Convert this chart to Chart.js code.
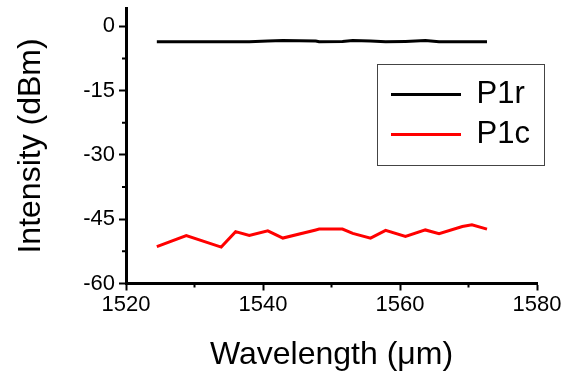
<!DOCTYPE html>
<html>
<head>
<meta charset="utf-8">
<script src="https://cdn.jsdelivr.net/npm/chart.js@4"></script>
<style>
  html, body { margin: 0; padding: 0; background: #fff; }
  #wrap { width: 585px; height: 382px; position: relative; }
</style>
</head>
<body>
<div id="wrap"><canvas id="grafico"></canvas></div>
<script>
// dados
const wavelength = [1524.5, 1528.8, 1533.9, 1536.0, 1538.0, 1540.7, 1542.9, 1547.7, 1548.2, 1551.6,
                    1553.1, 1555.7, 1557.9, 1560.8, 1563.7, 1565.7, 1569.1, 1570.5, 1572.7];
const p1r = [-3.6, -3.6, -3.6, -3.6, -3.6, -3.4, -3.3, -3.4, -3.6, -3.5,
             -3.3, -3.4, -3.6, -3.5, -3.3, -3.6, -3.6, -3.6, -3.6];
const p1c = [-51.4, -48.8, -51.5, -47.9, -48.8, -47.7, -49.4, -47.5, -47.3, -47.3,
             -48.3, -49.4, -47.6, -49.0, -47.5, -48.4, -46.7, -46.3, -47.3];

const xTicks = [1520, 1540, 1560, 1580];
const xMinor = [1530, 1550, 1570];
const yTicks = [-60, -45, -30, -15, 0];
const yMinor = [-52.5, -37.5, -22.5, -7.5];

const FONT = 'Arial, "Liberation Sans", sans-serif';

function pontos(ys) {
    return wavelength.map((w, i) => ({ x: w, y: ys[i] }));
}

// ticks menores (mais curtos) desenhados pela propria escala
const minorTicks = {
    id: 'minorTicks',
    afterDraw(chart) {
        const ctx = chart.ctx;
        const xs = chart.scales.x, ys = chart.scales.y;
        ctx.save();
        ctx.strokeStyle = '#000';
        ctx.lineWidth = 2;
        ctx.beginPath();
        xMinor.forEach(v => {
            const px = xs.getPixelForValue(v);
            ctx.moveTo(px, xs.top);
            ctx.lineTo(px, xs.top + 4);
        });
        yMinor.forEach(v => {
            const py = ys.getPixelForValue(v);
            ctx.moveTo(ys.right, py);
            ctx.lineTo(ys.right - 4, py);
        });
        ctx.stroke();
        ctx.restore();
    }
};

// legenda dentro da area do grafico, com moldura
const legendFrame = {
    id: 'legendFrame',
    beforeDraw(chart, args, opts) {
        const lg = chart.legend;
        if (!lg) return;
        lg.left = chart.chartArea.left + opts.dx;
        lg.top = chart.chartArea.top + opts.dy;
        lg.bottom = chart.chartArea.bottom;
    },
    afterDraw(chart, args, opts) {
        const lg = chart.legend;
        if (!lg) return;
        const ctx = chart.ctx;
        ctx.save();
        ctx.strokeStyle = '#444';
        ctx.lineWidth = 1;
        ctx.strokeRect(Math.round(lg.left - 5) + 0.5, Math.round(lg.top - 5.5) + 0.5, opts.w, opts.h);
        ctx.restore();
    }
};

const eixo = {
    border: { display: true, color: '#000', width: 3 },
    grid: { drawOnChartArea: false, drawTicks: true, tickLength: 7, tickWidth: 2, tickColor: '#000' },
    ticks: { color: '#000', font: { family: FONT, size: 22 }, callback: v => String(v) }
};

new Chart(document.getElementById('grafico'), {
    type: 'line',
    data: {
        datasets: [
            {
                label: 'P1r',
                data: pontos(p1r),
                borderColor: '#000',
                backgroundColor: '#000',
                borderWidth: 3,
                pointRadius: 0,
                tension: 0
            },
            {
                label: 'P1c',
                data: pontos(p1c),
                borderColor: '#ff0000',
                backgroundColor: '#ff0000',
                borderWidth: 3,
                pointRadius: 0,
                tension: 0
            }
        ]
    },
    options: {
        responsive: true,
        maintainAspectRatio: false,
        animation: false,
        layout: { padding: { top: 3, right: 48, bottom: 0, left: 0 } },
        plugins: {
            tooltip: { enabled: false },
            legend: {
                display: true,
                position: 'chartArea',
                align: 'start',
                labels: {
                    usePointStyle: true,
                    pointStyle: 'line',
                    pointStyleWidth: 70,
                    padding: 9,
                    color: '#000',
                    font: { family: FONT, size: 31 }
                }
            },
            legendFrame: { dx: 256, dy: 61.5, w: 167, h: 101 }
        },
        scales: {
            x: {
                ...eixo,
                type: 'linear',
                min: 1520,
                max: 1580,
                afterBuildTicks: s => { s.ticks = xTicks.map(v => ({ value: v })); },
                afterFit: s => { s.height = 98.5; },
                ticks: { ...eixo.ticks, padding: 1, maxRotation: 0 },
                title: {
                    display: true,
                    text: 'Wavelength (μm)',
                    color: '#000',
                    font: { family: FONT, size: 32 },
                    padding: { top: 0, bottom: 8 }
                }
            },
            y: {
                ...eixo,
                type: 'linear',
                min: -60,
                max: 4.2,
                afterBuildTicks: s => { s.ticks = yTicks.map(v => ({ value: v })); },
                afterFit: s => { s.width = 126; },
                ticks: { ...eixo.ticks, padding: 4, font: { family: FONT, size: 22, lineHeight: 0.4 } },
                title: {
                    display: true,
                    text: 'Intensity (dBm)',
                    color: '#000',
                    font: { family: FONT, size: 32 },
                    padding: { top: 12, bottom: 0 }
                }
            }
        }
    },
    plugins: [minorTicks, legendFrame]
});
</script>
</body>
</html>
